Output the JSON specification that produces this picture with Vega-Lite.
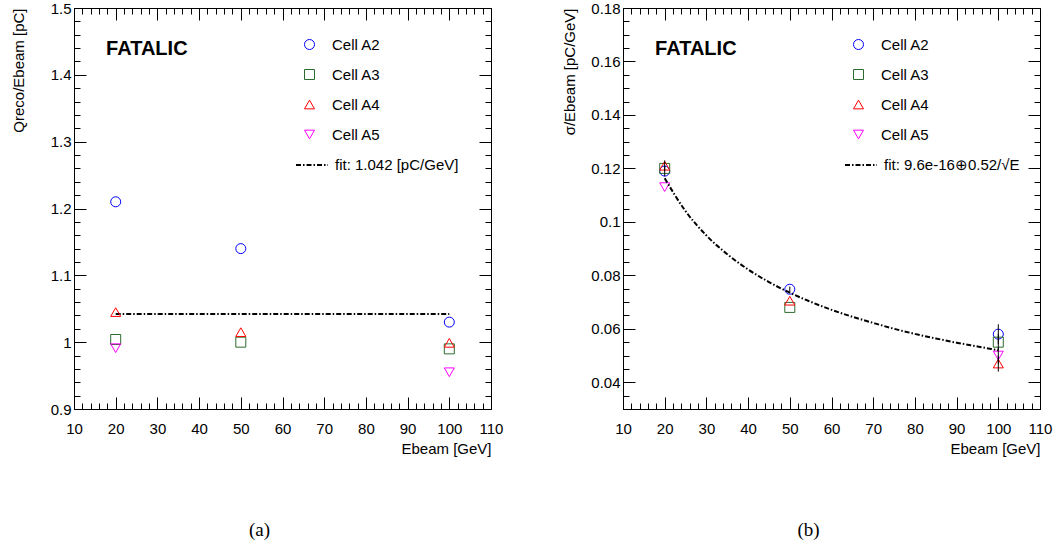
{
  "$schema": "https://vega.github.io/schema/vega-lite/v6.json",
  "padding": {"left": 10, "top": 0, "right": 0, "bottom": 0},
  "bounds": "flush",
  "spacing": 132,
  "background": "white",
  "hconcat": [
    {
      "width": 417,
      "height": 401,
      "title": {"text": "(a)", "orient": "bottom", "anchor": "middle", "font": "Liberation Serif", "fontSize": 19, "fontWeight": "normal", "color": "black", "offset": 65, "dx": -23},
      "layer": [
        {
          "data": {"values": [{"E": 20, "fit": 1.042, "lab": "fit: 1.042 [pC/GeV]"}, {"E": 100, "fit": 1.042, "lab": "fit: 1.042 [pC/GeV]"}]},
          "mark": {"type": "line", "color": "black", "strokeWidth": 2},
          "encoding": {
            "x": {"field": "E", "type": "quantitative", "scale": {"domain": [10, 110], "nice": false, "zero": false},
              "axis": {"orient": "top", "values": [10,12,14,16,18,20,22,24,26,28,30,32,34,36,38,40,42,44,46,48,50,52,54,56,58,60,62,64,66,68,70,72,74,76,78,80,82,84,86,88,90,92,94,96,98,100,102,104,106,108,110], "labels": false, "title": null, "domain": false,
                "tickSize": -12, "tickDash": {"condition": {"test": "datum.value % 10 === 0", "value": [20, 0]}, "value": [6, 30]}}},
            "y": {"field": "fit", "type": "quantitative", "scale": {"domain": [0.9, 1.5], "nice": false, "zero": false},
              "axis": {"orient": "right", "values": [0.9,0.92,0.94,0.96,0.98,1,1.02,1.04,1.06,1.08,1.1,1.12,1.14,1.16,1.18,1.2,1.22,1.24,1.26,1.28,1.3,1.32,1.34,1.36,1.38,1.4,1.42,1.44,1.46,1.48,1.5], "labels": false, "title": null, "domain": false,
                "tickSize": -12, "tickDash": {"condition": {"test": "abs(datum.value*10 - round(datum.value*10)) < 0.001", "value": [20, 0]}, "value": [6, 30]}}},
            "strokeDash": {"field": "lab", "type": "nominal", "scale": {"domain": ["fit: 1.042 [pC/GeV]"], "range": [[5, 2, 1.5, 2]]},
              "legend": {"title": null, "orient": "none", "legendX": 221, "legendY": 140, "labelFont": "Liberation Sans", "labelFontSize": 15, "labelColor": "black", "symbolSize": 1024, "symbolStrokeWidth": 2, "labelOffset": 6, "padding": 0}}
          }
        },
        {
          "data": {"values": [
            {"E": 20, "q": 1.21, "cell": "Cell A2"},
            {"E": 50, "q": 1.14, "cell": "Cell A2"},
            {"E": 100, "q": 1.03, "cell": "Cell A2"},
            {"E": 20, "q": 1.004, "cell": "Cell A3"},
            {"E": 50, "q": 1.0, "cell": "Cell A3"},
            {"E": 100, "q": 0.99, "cell": "Cell A3"},
            {"E": 20, "q": 1.045, "cell": "Cell A4"},
            {"E": 50, "q": 1.015, "cell": "Cell A4"},
            {"E": 100, "q": 0.999, "cell": "Cell A4"},
            {"E": 20, "q": 0.991, "cell": "Cell A5"},
            {"E": 100, "q": 0.955, "cell": "Cell A5"}
          ]},
          "mark": {"type": "point", "filled": false, "size": 100, "strokeWidth": 1, "opacity": 1},
          "encoding": {
            "x": {"field": "E", "type": "quantitative", "scale": {"domain": [10, 110], "nice": false, "zero": false},
              "axis": {"orient": "bottom", "values": [10,12,14,16,18,20,22,24,26,28,30,32,34,36,38,40,42,44,46,48,50,52,54,56,58,60,62,64,66,68,70,72,74,76,78,80,82,84,86,88,90,92,94,96,98,100,102,104,106,108,110],
                "labelExpr": "datum.value % 10 === 0 ? format(datum.value, 'd') : ''",
                "tickSize": -12, "tickDash": {"condition": {"test": "datum.value % 10 === 0", "value": [20, 0]}, "value": [6, 30]},
                "labelPadding": 24, "title": "Ebeam [GeV]", "titleAnchor": "end", "titlePadding": 5}},
            "y": {"field": "q", "type": "quantitative", "scale": {"domain": [0.9, 1.5], "nice": false, "zero": false},
              "axis": {"orient": "left", "values": [0.9,0.92,0.94,0.96,0.98,1,1.02,1.04,1.06,1.08,1.1,1.12,1.14,1.16,1.18,1.2,1.22,1.24,1.26,1.28,1.3,1.32,1.34,1.36,1.38,1.4,1.42,1.44,1.46,1.48,1.5],
                "labelExpr": "abs(datum.value*10 - round(datum.value*10)) < 0.001 ? format(datum.value, '~g') : ''",
                "tickSize": -12, "tickDash": {"condition": {"test": "abs(datum.value*10 - round(datum.value*10)) < 0.001", "value": [20, 0]}, "value": [6, 30]},
                "labelPadding": 15, "title": "Qreco/Ebeam [pC]", "titleAnchor": "end", "titlePadding": 24}},
            "color": {"field": "cell", "type": "nominal",
              "scale": {"domain": ["Cell A2", "Cell A3", "Cell A4", "Cell A5"], "range": ["#0000ff", "#2e6b2e", "#ff0000", "#ff00ff"]},
              "legend": {"title": null, "orient": "none", "legendX": 228, "legendY": 29, "labelFont": "Liberation Sans", "labelFontSize": 15, "labelColor": "black", "symbolSize": 100, "symbolStrokeWidth": 1, "rowPadding": 14, "labelOffset": 15, "padding": 0}},
            "shape": {"field": "cell", "type": "nominal",
              "scale": {"domain": ["Cell A2", "Cell A3", "Cell A4", "Cell A5"], "range": ["circle", "square", "triangle-up", "triangle-down"]},
              "legend": {"title": null, "orient": "none", "legendX": 228, "legendY": 29, "labelFont": "Liberation Sans", "labelFontSize": 15, "labelColor": "black", "symbolSize": 100, "symbolStrokeWidth": 1, "rowPadding": 14, "labelOffset": 15, "padding": 0}}
          }
        },
        {
          "data": {"values": [{"label": "FATALIC"}]},
          "mark": {"type": "text", "font": "Liberation Sans", "fontWeight": "bold", "fontSize": 20, "align": "left", "baseline": "middle", "color": "black"},
          "encoding": {
            "x": {"datum": 17.7, "type": "quantitative", "axis": null},
            "y": {"datum": 1.439, "type": "quantitative", "axis": null},
            "text": {"field": "label"}
          }
        }
      ],
      "resolve": {"axis": {"x": "independent", "y": "independent"}}
    },
    {
      "width": 417,
      "height": 401,
      "title": {"text": "(b)", "orient": "bottom", "anchor": "middle", "font": "Liberation Serif", "fontSize": 19, "fontWeight": "normal", "color": "black", "offset": 65, "dx": -23},
      "layer": [
        {
          "data": {"values": [
            {"E": 20, "s": 0.119, "cell": "Cell A2"},
            {"E": 50, "s": 0.0748, "cell": "Cell A2"},
            {"E": 100, "s": 0.058, "cell": "Cell A2"},
            {"E": 20, "s": 0.12, "cell": "Cell A3"},
            {"E": 50, "s": 0.068, "cell": "Cell A3"},
            {"E": 100, "s": 0.055, "cell": "Cell A3"},
            {"E": 20, "s": 0.121, "cell": "Cell A4"},
            {"E": 50, "s": 0.0705, "cell": "Cell A4"},
            {"E": 100, "s": 0.047, "cell": "Cell A4"},
            {"E": 20, "s": 0.113, "cell": "Cell A5"},
            {"E": 100, "s": 0.05, "cell": "Cell A5"}
          ]},
          "mark": {"type": "point", "filled": false, "size": 100, "strokeWidth": 1, "opacity": 1},
          "encoding": {
            "x": {"field": "E", "type": "quantitative", "scale": {"domain": [10, 110], "nice": false, "zero": false},
              "axis": {"orient": "bottom", "values": [10,12,14,16,18,20,22,24,26,28,30,32,34,36,38,40,42,44,46,48,50,52,54,56,58,60,62,64,66,68,70,72,74,76,78,80,82,84,86,88,90,92,94,96,98,100,102,104,106,108,110],
                "labelExpr": "datum.value % 10 === 0 ? format(datum.value, 'd') : ''",
                "tickSize": -12, "tickDash": {"condition": {"test": "datum.value % 10 === 0", "value": [20, 0]}, "value": [6, 30]},
                "labelPadding": 24, "title": "Ebeam [GeV]", "titleAnchor": "end", "titlePadding": 5}},
            "y": {"field": "s", "type": "quantitative", "scale": {"domain": [0.03, 0.18], "nice": false, "zero": false},
              "axis": {"orient": "left", "values": [0.03,0.035,0.04,0.045,0.05,0.055,0.06,0.065,0.07,0.075,0.08,0.085,0.09,0.095,0.1,0.105,0.11,0.115,0.12,0.125,0.13,0.135,0.14,0.145,0.15,0.155,0.16,0.165,0.17,0.175,0.18],
                "labelExpr": "abs(datum.value*50 - round(datum.value*50)) < 0.001 ? format(datum.value, '~g') : ''",
                "tickSize": -12, "tickDash": {"condition": {"test": "abs(datum.value*50 - round(datum.value*50)) < 0.001", "value": [20, 0]}, "value": [6, 30]},
                "labelPadding": 15, "title": "σ/Ebeam [pC/GeV]", "titleAnchor": "end", "titlePadding": 13}},
            "color": {"field": "cell", "type": "nominal",
              "scale": {"domain": ["Cell A2", "Cell A3", "Cell A4", "Cell A5"], "range": ["#0000ff", "#2e6b2e", "#ff0000", "#ff00ff"]},
              "legend": {"title": null, "orient": "none", "legendX": 228, "legendY": 29, "labelFont": "Liberation Sans", "labelFontSize": 15, "labelColor": "black", "symbolSize": 100, "symbolStrokeWidth": 1, "rowPadding": 14, "labelOffset": 15, "padding": 0}},
            "shape": {"field": "cell", "type": "nominal",
              "scale": {"domain": ["Cell A2", "Cell A3", "Cell A4", "Cell A5"], "range": ["circle", "square", "triangle-up", "triangle-down"]},
              "legend": {"title": null, "orient": "none", "legendX": 228, "legendY": 29, "labelFont": "Liberation Sans", "labelFontSize": 15, "labelColor": "black", "symbolSize": 100, "symbolStrokeWidth": 1, "rowPadding": 14, "labelOffset": 15, "padding": 0}}
          }
        },
        {
          "data": {"values": [
            {"E": 20, "fit": 0.1163, "lab": "fit: 9.6e-16⊕0.52/√E"}, {"E": 25, "fit": 0.104, "lab": "fit: 9.6e-16⊕0.52/√E"},
            {"E": 30, "fit": 0.0949, "lab": "fit: 9.6e-16⊕0.52/√E"}, {"E": 35, "fit": 0.0879, "lab": "fit: 9.6e-16⊕0.52/√E"},
            {"E": 40, "fit": 0.0822, "lab": "fit: 9.6e-16⊕0.52/√E"}, {"E": 45, "fit": 0.0775, "lab": "fit: 9.6e-16⊕0.52/√E"},
            {"E": 50, "fit": 0.0735, "lab": "fit: 9.6e-16⊕0.52/√E"}, {"E": 55, "fit": 0.0701, "lab": "fit: 9.6e-16⊕0.52/√E"},
            {"E": 60, "fit": 0.0671, "lab": "fit: 9.6e-16⊕0.52/√E"}, {"E": 65, "fit": 0.0645, "lab": "fit: 9.6e-16⊕0.52/√E"},
            {"E": 70, "fit": 0.0622, "lab": "fit: 9.6e-16⊕0.52/√E"}, {"E": 75, "fit": 0.06, "lab": "fit: 9.6e-16⊕0.52/√E"},
            {"E": 80, "fit": 0.0581, "lab": "fit: 9.6e-16⊕0.52/√E"}, {"E": 85, "fit": 0.0564, "lab": "fit: 9.6e-16⊕0.52/√E"},
            {"E": 90, "fit": 0.0548, "lab": "fit: 9.6e-16⊕0.52/√E"}, {"E": 95, "fit": 0.0534, "lab": "fit: 9.6e-16⊕0.52/√E"},
            {"E": 100, "fit": 0.052, "lab": "fit: 9.6e-16⊕0.52/√E"}
          ]},
          "mark": {"type": "line", "color": "black", "strokeWidth": 2, "interpolate": "monotone"},
          "encoding": {
            "x": {"field": "E", "type": "quantitative", "scale": {"domain": [10, 110], "nice": false, "zero": false},
              "axis": {"orient": "top", "values": [10,12,14,16,18,20,22,24,26,28,30,32,34,36,38,40,42,44,46,48,50,52,54,56,58,60,62,64,66,68,70,72,74,76,78,80,82,84,86,88,90,92,94,96,98,100,102,104,106,108,110], "labels": false, "title": null, "domain": false,
                "tickSize": -12, "tickDash": {"condition": {"test": "datum.value % 10 === 0", "value": [20, 0]}, "value": [6, 30]}}},
            "y": {"field": "fit", "type": "quantitative", "scale": {"domain": [0.03, 0.18], "nice": false, "zero": false},
              "axis": {"orient": "right", "values": [0.03,0.035,0.04,0.045,0.05,0.055,0.06,0.065,0.07,0.075,0.08,0.085,0.09,0.095,0.1,0.105,0.11,0.115,0.12,0.125,0.13,0.135,0.14,0.145,0.15,0.155,0.16,0.165,0.17,0.175,0.18], "labels": false, "title": null, "domain": false,
                "tickSize": -12, "tickDash": {"condition": {"test": "abs(datum.value*50 - round(datum.value*50)) < 0.001", "value": [20, 0]}, "value": [6, 30]}}},
            "strokeDash": {"field": "lab", "type": "nominal", "scale": {"domain": ["fit: 9.6e-16⊕0.52/√E"], "range": [[5, 2, 1.5, 2]]},
              "legend": {"title": null, "orient": "none", "legendX": 221, "legendY": 140, "labelFont": "Liberation Sans", "labelFontSize": 15, "labelColor": "black", "symbolSize": 1024, "symbolStrokeWidth": 2, "labelOffset": 6, "padding": 0}}
          }
        },
        {
          "data": {"values": [
            {"E": 20, "lo": 0.117, "hi": 0.121},
            {"E": 20, "lo": 0.119, "hi": 0.123},
            {"E": 50, "lo": 0.0738, "hi": 0.0758},
            {"E": 100, "lo": 0.0543, "hi": 0.0617},
            {"E": 100, "lo": 0.052, "hi": 0.058},
            {"E": 100, "lo": 0.044, "hi": 0.05},
            {"E": 100, "lo": 0.047, "hi": 0.053}
          ]},
          "mark": {"type": "rule", "color": "black", "strokeWidth": 1},
          "encoding": {
            "x": {"field": "E", "type": "quantitative", "axis": null},
            "y": {"field": "lo", "type": "quantitative", "axis": null},
            "y2": {"field": "hi"}
          }
        },
        {
          "data": {"values": [{"label": "FATALIC"}]},
          "mark": {"type": "text", "font": "Liberation Sans", "fontWeight": "bold", "fontSize": 20, "align": "left", "baseline": "middle", "color": "black"},
          "encoding": {
            "x": {"datum": 17.7, "type": "quantitative", "axis": null},
            "y": {"datum": 0.1647, "type": "quantitative", "axis": null},
            "text": {"field": "label"}
          }
        }
      ],
      "resolve": {"axis": {"x": "independent", "y": "independent"}}
    }
  ],
  "resolve": {"scale": {"color": "independent", "shape": "independent", "strokeDash": "independent", "x": "independent", "y": "independent"}, "legend": {"color": "independent", "shape": "independent", "strokeDash": "independent"}},
  "config": {
    "font": "Liberation Sans",
    "view": {"stroke": "black", "strokeWidth": 1},
    "axis": {"labelFont": "Liberation Sans", "labelFontSize": 15, "labelColor": "black", "titleFont": "Liberation Sans", "titleFontSize": 15, "titleFontWeight": "normal", "titleColor": "black", "domainColor": "black", "domainWidth": 1, "tickColor": "black", "tickWidth": 1, "grid": false, "labelFlush": false, "labelOverlap": false, "labelBound": false}
  }
}
